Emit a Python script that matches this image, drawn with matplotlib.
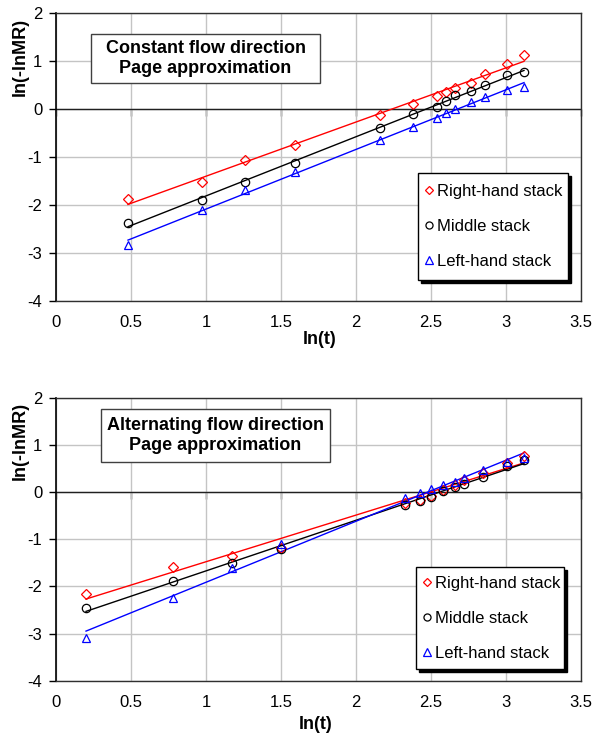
import matplotlib
matplotlib.use("Agg")
import matplotlib.pyplot as plt
import numpy as np
from matplotlib.patches import Rectangle

plt.rcParams['font.family'] = ['Liberation Sans', 'DejaVu Sans']
plt.rcParams['axes.unicode_minus'] = False

# constant flow direction
x_const = [0.48, 0.97, 1.26, 1.59, 2.16, 2.38, 2.54, 2.60, 2.66, 2.77, 2.86, 3.01, 3.12]
right_const = [-1.88, -1.53, -1.06, -0.74, -0.13, 0.10, 0.27, 0.36, 0.45, 0.55, 0.73, 0.95, 1.13]
middle_const = [-2.38, -1.89, -1.52, -1.12, -0.39, -0.11, 0.05, 0.16, 0.29, 0.37, 0.51, 0.72, 0.77]
left_const = [-2.84, -2.10, -1.69, -1.31, -0.64, -0.37, -0.18, -0.09, 0.00, 0.15, 0.25, 0.40, 0.46]

# alternating flow direction
x_alt = [0.20, 0.78, 1.17, 1.50, 2.33, 2.43, 2.50, 2.58, 2.66, 2.72, 2.85, 3.01, 3.12]
right_alt = [-2.16, -1.58, -1.35, -1.18, -0.23, -0.16, -0.07, 0.05, 0.15, 0.27, 0.41, 0.62, 0.76]
middle_alt = [-2.45, -1.89, -1.51, -1.21, -0.28, -0.19, -0.10, 0.02, 0.12, 0.18, 0.33, 0.55, 0.69]
left_alt = [-3.09, -2.24, -1.60, -1.10, -0.13, -0.01, 0.07, 0.15, 0.22, 0.30, 0.47, 0.64, 0.72]

series_names = ['Right-hand stack', 'Middle stack', 'Left-hand stack']
colors = ['#FF0000', '#000000', '#0000FF']
markers = ['D', 'o', '^']
msizes = [5.0, 6.0, 6.0]


def shadow_box(ax, box, lw, z, ec, shadow=True):
    x0, y0, x1, y1 = box
    if shadow:
        dx = 3 / 525
        dy = 3 / 285
        ax.add_patch(Rectangle((x0 + dx, y0 - dy), x1 - x0, y1 - y0, transform=ax.transAxes,
                               fc='black', ec='black', lw=lw, zorder=z))
    ax.add_patch(Rectangle((x0, y0), x1 - x0, y1 - y0, transform=ax.transAxes,
                           fc='white', ec=ec, lw=lw, zorder=z + 0.1))


def draw_panel(ax, x, ys, title, box, legbox):
    x = np.array(x)
    for y, name, c, m, ms in zip(ys, series_names, colors, markers, msizes):
        ax.plot(x, y, linestyle='none', marker=m, ms=ms, mfc='none', mec=c, mew=0.9,
                label=name, zorder=4)
        # excel style linear trendline
        k, b = np.polyfit(x, y, 1)
        ax.plot([x[0], x[-1]], [k * x[0] + b, k * x[-1] + b], color=c, lw=1.0, zorder=3)

    ax.set_xlim(0, 3.5)
    ax.set_ylim(-4, 2)
    ax.set_xticks(np.arange(0, 3.51, 0.5))
    ax.set_yticks(np.arange(-4, 2.1, 1))
    ax.set_xticklabels(['0', '0.5', '1', '1.5', '2', '2.5', '3', '3.5'])
    ax.grid(True, color='#C4C4C4', lw=1.0, zorder=0)
    ax.set_axisbelow(True)
    ax.axhline(0, color='#202020', lw=1.0, zorder=2)

    for s in ['top', 'right', 'bottom']:
        ax.spines[s].set_color('#303030')
        ax.spines[s].set_linewidth(1.0)
    ax.spines['left'].set_color('black')
    ax.spines['left'].set_linewidth(1.2)

    ax.tick_params(axis='x', length=0, pad=10, labelsize=12)
    ax.tick_params(axis='y', length=5, width=1, direction='out', pad=5, labelsize=12)

    # x axis ticks sit on the zero line
    sec = ax.secondary_xaxis(2 / 3)
    sec.set_xticks(np.arange(0, 3.51, 0.5))
    sec.tick_params(length=5, width=1, direction='out', labelbottom=False, labeltop=False,
                    bottom=True, top=False, color='#202020')
    sec.spines['bottom'].set_visible(False)
    sec.spines['top'].set_visible(False)

    ax.set_xlabel('ln(t)', fontsize=13, fontweight='bold')
    ax.set_ylabel('ln(-lnMR)', fontsize=13, fontweight='bold')
    ax.yaxis.set_label_coords(-0.052, 0.848)

    shadow_box(ax, box, 1.0, 5, '#404040', shadow=False)
    ax.text((box[0] + box[2]) / 2, (box[1] + box[3]) / 2, title, transform=ax.transAxes,
            ha='center', va='center', fontsize=13, fontweight='bold', linespacing=1.2, zorder=6)

    shadow_box(ax, legbox, 1.0, 7, 'black')
    leg = ax.legend(loc='center left', bbox_to_anchor=(legbox[0], (legbox[1] + legbox[3]) / 2),
                    fontsize=12, frameon=False, handlelength=0.4, handletextpad=0.3,
                    labelspacing=1.2, borderpad=0.0, borderaxespad=0.45, markerscale=0.85)
    leg.set_zorder(8)


fig = plt.figure(figsize=(5.94, 7.36), dpi=100)
ax1 = fig.add_axes([0.0943, 0.5914, 0.8838, 0.3906])
ax2 = fig.add_axes([0.0943, 0.0751, 0.8838, 0.3841])

draw_panel(ax1, x_const, [right_const, middle_const, left_const],
           'Constant flow direction\nPage approximation',
           (0.0667, 0.757, 0.503, 0.928), (0.6895, 0.072, 0.975, 0.444))
ax1.xaxis.set_label_coords(0.503, -0.105)

draw_panel(ax2, x_alt, [right_alt, middle_alt, left_alt],
           'Alternating flow direction\nPage approximation',
           (0.0857, 0.774, 0.522, 0.961), (0.686, 0.041, 0.968, 0.402))
ax2.xaxis.set_label_coords(0.495, -0.125)

fig.savefig('out.png', dpi=100)
